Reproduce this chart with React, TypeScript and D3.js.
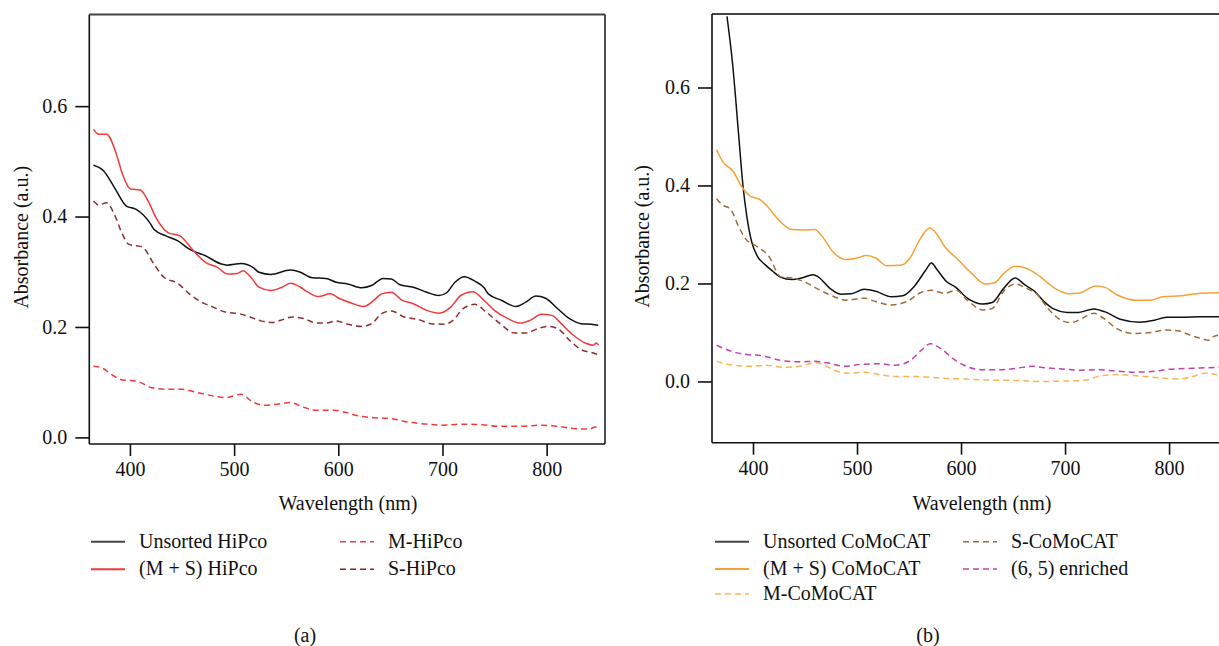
import { useEffect, useRef } from 'react';
import * as d3 from 'd3';

// [wavelength nm, absorbance]
const unsortedHipco: [number, number][] = [
  [365, 0.493], [374.6, 0.483], [385, 0.453], [396.6, 0.419], [406, 0.413], [419, 0.389], [423, 0.377],
  [434.6, 0.365], [446, 0.356], [457, 0.341], [472.5, 0.329], [487.7, 0.314], [493.4, 0.312], [506.7, 0.315],
  [518, 0.308], [524, 0.299], [535, 0.295], [554, 0.303], [563.7, 0.299], [575, 0.289], [588, 0.288],
  [598, 0.281], [609, 0.278], [622.6, 0.271], [632, 0.275], [643, 0.288], [651, 0.287], [658.6, 0.277],
  [672, 0.272], [685, 0.263], [696.6, 0.257], [704, 0.262], [712, 0.281], [721, 0.291], [731, 0.283],
  [740, 0.271], [744, 0.26], [757, 0.248], [770.7, 0.237], [780, 0.245], [789.7, 0.256], [799, 0.252],
  [810.6, 0.233], [822, 0.215], [833, 0.206], [843, 0.205], [849.5, 0.203],
];
const msHipco: [number, number][] = [
  [365, 0.558], [370, 0.549], [377.6, 0.549], [387, 0.513], [392.8, 0.477], [400.4, 0.45], [410, 0.448],
  [417.5, 0.428], [425, 0.398], [436.5, 0.371], [448, 0.365], [461, 0.338], [472.5, 0.317], [484, 0.308],
  [493.4, 0.296], [503, 0.297], [508.6, 0.302], [516, 0.29], [524, 0.272], [535, 0.266], [544.7, 0.271],
  [554, 0.279], [563.7, 0.272], [571, 0.263], [581, 0.255], [592, 0.26], [601.7, 0.251], [613, 0.243],
  [624.5, 0.237], [634, 0.248], [641.5, 0.26], [651, 0.263], [660.5, 0.249], [672, 0.242], [685, 0.23],
  [696.6, 0.225], [708, 0.236], [717.5, 0.257], [729, 0.264], [740, 0.248], [749.8, 0.23], [763, 0.215],
  [774.6, 0.207], [784, 0.212], [795, 0.223], [805, 0.221], [814, 0.206], [825.7, 0.185], [837, 0.171],
  [844.7, 0.167], [847.8, 0.171], [849.7, 0.167],
];
const mHipco: [number, number][] = [
  [365, 0.129], [374, 0.125], [383, 0.113], [392.8, 0.104], [406, 0.102], [421, 0.09], [434.6, 0.087],
  [449.8, 0.087], [465, 0.081], [480, 0.075], [491.5, 0.072], [506.7, 0.078], [518, 0.064], [529.5, 0.058],
  [541, 0.06], [554, 0.063], [567.5, 0.054], [579, 0.049], [596, 0.049], [605.5, 0.046], [618.8, 0.039],
  [632, 0.036], [651, 0.034], [666, 0.028], [685, 0.024], [700, 0.022], [719.5, 0.024], [738, 0.023],
  [753.6, 0.02], [776, 0.02], [795, 0.022], [810.5, 0.02], [825.7, 0.016], [841, 0.015], [846.6, 0.019],
  [849.7, 0.016],
];
const sHipco: [number, number][] = [
  [365, 0.428], [370, 0.421], [377.6, 0.425], [385, 0.404], [392.8, 0.368], [398.5, 0.35], [406, 0.347],
  [411.8, 0.345], [423, 0.314], [432.7, 0.29], [446, 0.279], [457, 0.26], [468.7, 0.245], [480, 0.236],
  [491.5, 0.227], [505, 0.224], [514, 0.219], [525.7, 0.211], [537, 0.208], [544.7, 0.212], [556, 0.218],
  [567.5, 0.215], [579, 0.207], [588, 0.207], [598, 0.211], [609, 0.205], [622.6, 0.201], [632, 0.206],
  [641.5, 0.224], [651, 0.229], [662, 0.219], [677.6, 0.213], [689, 0.206], [702, 0.205], [710, 0.212],
  [719.6, 0.233], [731, 0.241], [742, 0.227], [756, 0.205], [769, 0.189], [780, 0.189], [791.6, 0.197],
  [801, 0.201], [810.6, 0.197], [822, 0.176], [833, 0.159], [844.7, 0.153], [849.7, 0.15],
];

const unsortedComocat: [number, number][] = [
  [375, 0.745], [380.5, 0.646], [386, 0.509], [390.4, 0.399], [394, 0.338], [399, 0.283], [404.4, 0.255],
  [411.8, 0.238], [419, 0.225], [426.4, 0.213], [437.5, 0.208], [446.6, 0.211], [457.7, 0.218], [463, 0.213],
  [474, 0.19], [485, 0.178], [494.4, 0.179], [507, 0.188], [518, 0.184], [533, 0.173], [544, 0.175],
  [555, 0.194], [566, 0.227], [571.5, 0.242], [577, 0.228], [586, 0.204], [595, 0.192], [606, 0.17],
  [621, 0.158], [630, 0.161], [641, 0.19], [652, 0.211], [661.5, 0.197], [670.7, 0.184], [679.9, 0.163],
  [689, 0.148], [702, 0.141], [713, 0.141], [727.5, 0.148], [738.6, 0.142], [753, 0.127], [771.7, 0.121],
  [786, 0.125], [797.4, 0.131], [812, 0.131], [830.5, 0.132], [850, 0.132],
];
const msComocat: [number, number][] = [
  [365, 0.473], [371.4, 0.447], [380.5, 0.43], [389.7, 0.396], [397, 0.379], [406, 0.372], [413.6, 0.358],
  [422.8, 0.334], [437.5, 0.31], [448.5, 0.309], [459.5, 0.31], [465, 0.3], [478, 0.262], [489, 0.249],
  [500, 0.252], [509, 0.257], [518, 0.252], [529, 0.236], [542, 0.237], [551, 0.252], [560.5, 0.29],
  [570, 0.313], [577, 0.3], [584, 0.276], [595.5, 0.252], [610, 0.221], [623, 0.199], [632, 0.201],
  [641, 0.22], [652, 0.235], [665, 0.229], [676, 0.214], [691, 0.189], [703.8, 0.179], [713, 0.18],
  [729.7, 0.195], [738.6, 0.192], [749.7, 0.177], [768, 0.166], [782.7, 0.166], [793.8, 0.173], [812, 0.175],
  [830.5, 0.18], [850, 0.181],
];
const mComocat: [number, number][] = [
  [365, 0.041], [378.7, 0.034], [397, 0.031], [411.8, 0.033], [430, 0.029], [444.8, 0.031], [459.5, 0.038],
  [467, 0.035], [478, 0.023], [492.6, 0.017], [507, 0.019], [522, 0.014], [536.6, 0.01], [558.7, 0.01],
  [580.7, 0.007], [603, 0.005], [625, 0.003], [654, 0.002], [680, 0.0], [702, 0.001], [720, 0.003],
  [735, 0.012], [749.7, 0.014], [771.7, 0.011], [793.8, 0.007], [808.5, 0.005], [823, 0.01], [834, 0.017],
  [850, 0.012],
];
const sComocat: [number, number][] = [
  [365, 0.373], [369.5, 0.362], [378.7, 0.351], [386, 0.317], [393.4, 0.29], [402.6, 0.277], [415.4, 0.255],
  [426.4, 0.214], [437.5, 0.211], [448.5, 0.204], [463, 0.188], [478, 0.173], [489, 0.166], [507, 0.17],
  [518, 0.163], [533, 0.156], [547.7, 0.163], [562, 0.182], [571.5, 0.186], [584, 0.18], [595.5, 0.186],
  [606, 0.166], [621, 0.146], [630, 0.149], [641, 0.184], [652, 0.199], [663, 0.19], [672.6, 0.179],
  [683.6, 0.149], [694.6, 0.127], [705.6, 0.12], [716.6, 0.129], [727.6, 0.139], [737, 0.129], [749.7, 0.108],
  [766, 0.098], [782.7, 0.1], [797.4, 0.105], [810, 0.103], [819.5, 0.095], [830.5, 0.088], [838, 0.084],
  [843, 0.092], [850, 0.095],
];
const enriched65: [number, number][] = [
  [365, 0.074], [378.7, 0.062], [393.4, 0.055], [408, 0.053], [426.4, 0.043], [444.8, 0.04], [459.5, 0.041],
  [470.5, 0.038], [489, 0.031], [503.6, 0.035], [522, 0.036], [536.6, 0.033], [551.3, 0.043], [562, 0.064],
  [570.4, 0.077], [580.7, 0.067], [592, 0.047], [603, 0.033], [621, 0.024], [639.5, 0.024], [654, 0.027],
  [669, 0.031], [680, 0.028], [694.6, 0.026], [713, 0.023], [731, 0.024], [749.7, 0.021], [768, 0.019],
  [786, 0.021], [801, 0.025], [823, 0.027], [850, 0.029],
];

const xTicks = [400, 500, 600, 700, 800];
const yTicks = [0.0, 0.2, 0.4, 0.6];

const FONT = "'Liberation Serif', 'DejaVu Serif', serif";

const panelA = {
  id: 'a', left: 89.3, right: 605, top: 14.5, bottom: 444,
  xDomain: [361, 856], yDomain: [-0.012, 0.766], boxRight: true,
  yTitleX: 21, xTitleX: 348, caption: '(a)', captionX: 305,
  series: [
    { name: 'Unsorted HiPco', data: unsortedHipco, color: '#111', dash: null, legend: '#444' },
    { name: '(M + S) HiPco', data: msHipco, color: '#f03a3a', dash: null, legend: '#f03a3a' },
    { name: 'M-HiPco', data: mHipco, color: '#f03a3a', dash: '6 4', legend: '#f03a3a' },
    { name: 'S-HiPco', data: sHipco, color: '#8a2f2f', dash: '6 4', legend: '#8a2222' },
  ],
  legend: [
    { x: 91, y: 541.7 }, { x: 91, y: 569.3 }, { x: 340, y: 541.7 }, { x: 340, y: 569.3 },
  ],
};

const panelB = {
  id: 'b', left: 712, right: 1219, top: 14, bottom: 442.7,
  xDomain: [360.6, 848], yDomain: [-0.125, 0.75], boxRight: false,
  yTitleX: 642, xTitleX: 982, caption: '(b)', captionX: 928,
  series: [
    { name: 'Unsorted CoMoCAT', data: unsortedComocat, color: '#111', dash: null, legend: '#444' },
    { name: '(M + S) CoMoCAT', data: msComocat, color: '#f7a035', dash: null, legend: '#f7a035' },
    { name: 'M-CoMoCAT', data: mComocat, color: '#fab455', dash: '6 4', legend: '#fab455' },
    { name: 'S-CoMoCAT', data: sComocat, color: '#9c6d3c', dash: '6 4', legend: '#9c6d3c' },
    { name: '(6, 5) enriched', data: enriched65, color: '#c242ac', dash: '6 4', legend: '#c242ac' },
  ],
  legend: [
    { x: 715, y: 541.7 }, { x: 715, y: 569 }, { x: 715, y: 594 }, { x: 963, y: 541.7 }, { x: 963, y: 569 },
  ],
};

type Panel = typeof panelA;

const ChartPanel = ({ p }: { p: Panel }) => {
  const xAxisRef = useRef<SVGGElement>(null);
  const yAxisRef = useRef<SVGGElement>(null);

  const x = d3.scaleLinear().domain(p.xDomain).range([p.left, p.right]);
  const y = d3.scaleLinear().domain(p.yDomain).range([p.bottom, p.top]);

  const line = d3.line<[number, number]>()
    .x(d => x(d[0]))
    .y(d => y(d[1]))
    .curve(d3.curveMonotoneX);

  useEffect(() => {
    const gx = d3.select(xAxisRef.current!);
    gx.selectAll('*').remove();
    gx.call(d3.axisBottom(x).tickValues(xTicks).tickSize(12).tickPadding(6).tickFormat(d3.format('d')) as any);
    const gy = d3.select(yAxisRef.current!);
    gy.selectAll('*').remove();
    gy.call(d3.axisLeft(y).tickValues(yTicks).tickSize(14).tickPadding(8).tickFormat(d3.format('.1f')) as any);
    [gx, gy].forEach(g => {
      g.attr('font-family', FONT).attr('font-size', 20);
      g.select('.domain').remove();
      g.selectAll('.tick line').attr('stroke', '#111').attr('stroke-width', 1.6);
      g.selectAll('.tick text').attr('fill', '#111').attr('font-family', FONT).attr('font-size', 20);
    });
  }, []);

  const midY = (p.top + p.bottom) / 2 + 8;

  return (
    <g>
      <defs>
        <clipPath id={`clip-${p.id}`}>
          <rect x={p.left} y={p.top} width={p.right - p.left} height={p.bottom - p.top} />
        </clipPath>
      </defs>
      <g clipPath={`url(#clip-${p.id})`}>
        {p.series.map(s => (
          <path key={s.name} d={line(s.data) ?? ''} fill="none" stroke={s.color}
            strokeWidth={1.5} strokeDasharray={s.dash ?? undefined} />
        ))}
      </g>
      {/* frame */}
      <line x1={p.left} x2={p.right} y1={p.top} y2={p.top} stroke="#444" strokeWidth={2} />
      {p.boxRight && <line x1={p.right} x2={p.right} y1={p.top} y2={p.bottom} stroke="#222" strokeWidth={1.6} />}
      <line x1={p.left} x2={p.left} y1={p.top} y2={p.bottom} stroke="#111" strokeWidth={1.6} />
      <line x1={p.left} x2={p.right} y1={p.bottom} y2={p.bottom} stroke="#111" strokeWidth={1.6} />
      <g ref={xAxisRef} transform={`translate(0,${p.bottom})`} />
      <g ref={yAxisRef} transform={`translate(${p.left},0)`} />
      <g fontFamily={FONT} fontSize={20} fill="#111">
        <text transform={`translate(${p.yTitleX},${midY}) rotate(-90)`} textAnchor="middle"
          dominantBaseline="central">Absorbance (a.u.)</text>
        <text x={p.xTitleX} y={510} textAnchor="middle">Wavelength (nm)</text>
        {p.series.map((s, i) => {
          const pos = p.legend[i];
          return (
            <g key={s.name}>
              <line x1={pos.x} x2={pos.x + 34} y1={pos.y} y2={pos.y} stroke={s.legend}
                strokeWidth={s.dash ? 1.5 : 2} strokeDasharray={s.dash ? '6 4' : undefined} />
              <text x={pos.x + 48} y={pos.y + 6}>{s.name}</text>
            </g>
          );
        })}
        <text x={p.captionX} y={642} textAnchor="middle">{p.caption}</text>
      </g>
    </g>
  );
};

const App = () => (
  <div style={{ position: 'absolute', left: 0, top: 0 }}>
    <svg width={1219} height={646} style={{ display: 'block', background: '#fff' }}>
      <ChartPanel p={panelA} />
      <ChartPanel p={panelB as Panel} />
    </svg>
  </div>
);

export default App;
